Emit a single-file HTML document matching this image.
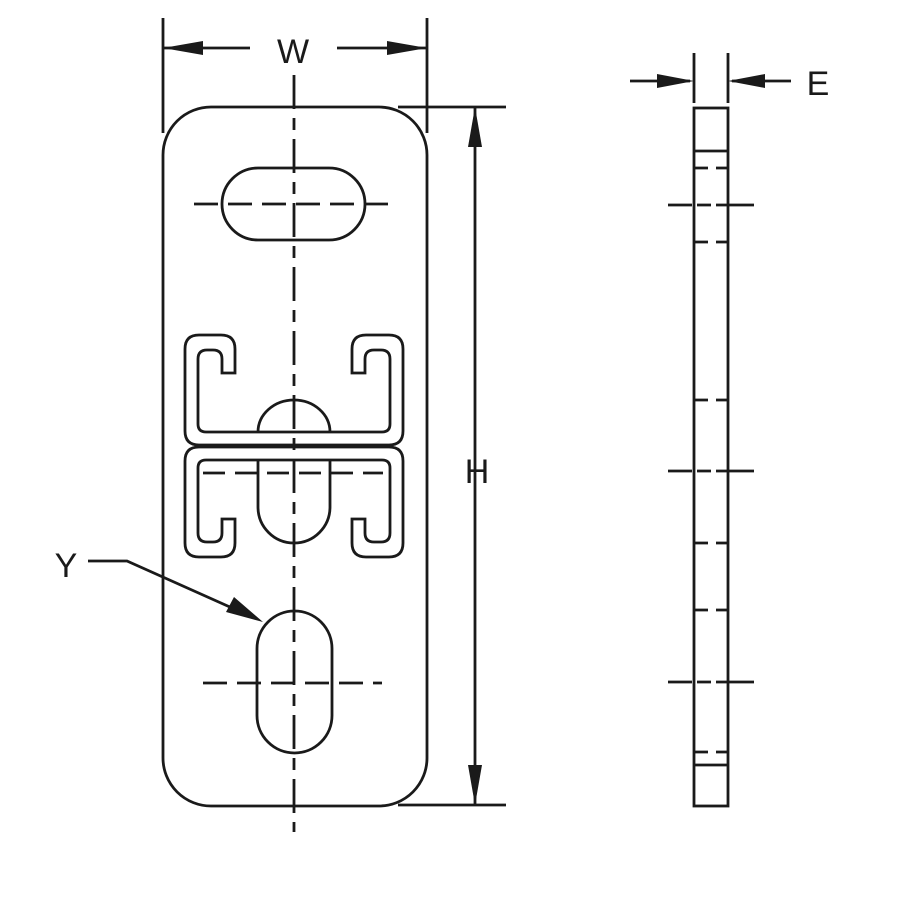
<!DOCTYPE html>
<html><head><style>html,body{margin:0;padding:0;background:#fff}svg{display:block}</style></head>
<body>
<svg width="900" height="900" viewBox="0 0 900 900" xmlns="http://www.w3.org/2000/svg">
<g fill="none" stroke="#1a1a1a" stroke-width="2.8" stroke-linecap="butt">
<rect x="163" y="107" width="264" height="699" rx="48"/>
<rect x="222" y="168" width="143" height="72" rx="36"/>
<rect x="257" y="611" width="75" height="142" rx="37.5"/>
<path d="M222,373 L222,359 Q222,350 213,350 L207,350 Q198,350 198,359 L198,424 Q198,432 206,432 L382,432 Q390,432 390,424 L390,359 Q390,350 381,350 L374,350 Q365,350 365,359 L365,373 L352,373 L352,349 Q352,335 366,335 L389,335 Q403,335 403,349 L403,431 Q403,445 389,445 L199,445 Q185,445 185,431 L185,349 Q185,335 199,335 L221,335 Q235,335 235,349 L235,373 Z"/>
<g transform="translate(0,892) scale(1,-1)"><path d="M222,373 L222,359 Q222,350 213,350 L207,350 Q198,350 198,359 L198,424 Q198,432 206,432 L382,432 Q390,432 390,424 L390,359 Q390,350 381,350 L374,350 Q365,350 365,359 L365,373 L352,373 L352,349 Q352,335 366,335 L389,335 Q403,335 403,349 L403,431 Q403,445 389,445 L199,445 Q185,445 185,431 L185,349 Q185,335 199,335 L221,335 Q235,335 235,349 L235,373 Z"/></g>
<path d="M258,432 A36,32 0 0 1 330,432"/>
<path d="M258,460 L258,507 A36,36 0 0 0 330,507 L330,460"/>
<line x1="294" y1="75" x2="294" y2="832" stroke-dasharray="34 9 12 9"/>
<g stroke-dasharray="24 10">
<line x1="194" y1="204" x2="394" y2="204"/>
<line x1="203" y1="473" x2="383" y2="473" stroke-dasharray="22 10"/>
<line x1="203" y1="683" x2="382" y2="683"/>
</g>
<line x1="163" y1="18" x2="163" y2="133"/>
<line x1="427" y1="18" x2="427" y2="133"/>
<line x1="163" y1="48" x2="250" y2="48"/>
<line x1="337" y1="48" x2="427" y2="48"/>
<line x1="398" y1="107" x2="506" y2="107"/>
<line x1="398" y1="805" x2="506" y2="805"/>
<line x1="475" y1="107" x2="475" y2="805"/>
<polyline points="88,561 127,561 250,616"/>
<rect x="694" y="108" width="34" height="698"/>
<line x1="694" y1="151" x2="728" y2="151"/>
<line x1="694" y1="765" x2="728" y2="765"/>
<line x1="694" y1="53" x2="694" y2="103"/>
<line x1="728" y1="53" x2="728" y2="103"/>
<line x1="630" y1="81" x2="690" y2="81"/>
<line x1="732" y1="81" x2="791" y2="81"/>
<g stroke-dasharray="14 8">
<line x1="694" y1="168" x2="728" y2="168"/>
<line x1="694" y1="242" x2="728" y2="242"/>
<line x1="694" y1="400" x2="728" y2="400"/>
<line x1="694" y1="543" x2="728" y2="543"/>
<line x1="694" y1="610" x2="728" y2="610"/>
<line x1="694" y1="752" x2="728" y2="752"/>
</g>
<g stroke-dasharray="24 5 14 5 40">
<line x1="668" y1="205" x2="754" y2="205"/>
<line x1="668" y1="471" x2="754" y2="471"/>
<line x1="668" y1="682" x2="754" y2="682"/>
</g>
</g>
<g fill="#1a1a1a" stroke="none">
<polygon points="163,48 203,41 203,55"/>
<polygon points="427,48 387,41 387,55"/>
<polygon points="475,107 468,147 482,147"/>
<polygon points="475,805 468,765 482,765"/>
<polygon points="694,81 657,74 657,88"/>
<polygon points="728,81 765,74 765,88"/>
<polygon points="263,622 226,612 234,597"/>
</g>
<g font-family="Liberation Sans, sans-serif" font-size="34" fill="#1a1a1a" font-weight="300">
<text x="293" y="63" text-anchor="middle">W</text>
<text x="477" y="483" text-anchor="middle">H</text>
<text x="818" y="95" text-anchor="middle">E</text>
<text x="66" y="577" text-anchor="middle">Y</text>
</g>
</svg>
</body></html>
